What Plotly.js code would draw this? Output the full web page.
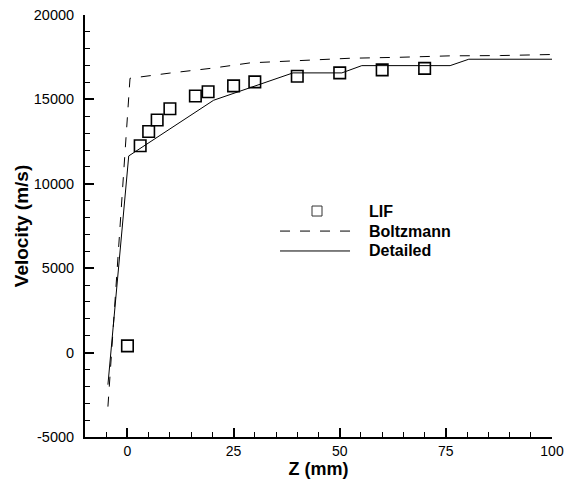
<!DOCTYPE html>
<html>
<head>
<meta charset="utf-8">
<script src="https://cdn.plot.ly/plotly-3.0.1.min.js"></script>
<style>html,body{margin:0;padding:0;background:#fff;}#chart{width:569px;height:485px;}</style>
</head>
<body>
<div id="chart"></div>
<script>
// LIF measurements
var lifZ = [0, 3, 5, 7, 10, 16, 19, 25, 30, 40, 50, 60, 70];
var lifV = [400, 12250, 13100, 13780, 14450, 15200, 15450, 15800, 16040, 16370, 16570, 16750, 16840];
// Boltzmann model
var boltzZ = [-4.6, 0.6, 10, 20, 28.9, 40.6, 52.4, 64.2, 76, 87.8, 100];
var boltzV = [-3200, 16250, 16560, 16850, 17164, 17318, 17437, 17496, 17580, 17597, 17660];
// Detailed model
var detZ = [-4.6, 0.3, 20.3, 39, 50.5, 55.2, 76, 80.4, 100];
var detV = [-1900, 11650, 14950, 16570, 16570, 17000, 17000, 17380, 17380];
// Legend labels
var names = ["LIF", "Boltzmann", "Detailed"];
// Tick labels
var xTickVals = [0, 25, 50, 75, 100];
var yTickVals = [-5000, 0, 5000, 10000, 15000, 20000];
var yTickText = ["-5000", "0", "5000", "10000", "15000", "20000"];

var FONT = "Liberation Sans, Arial, Helvetica, sans-serif";

var traces = [
  {x: boltzZ, y: boltzV, type: "scatter", mode: "lines", name: names[1],
   line: {color: "#000", width: 1, dash: "10px,10px"}},
  {x: detZ, y: detV, type: "scatter", mode: "lines", name: names[2],
   line: {color: "#000", width: 1}},
  {x: lifZ, y: lifV, type: "scatter", mode: "markers", name: names[0],
   marker: {symbol: "square-open", size: 11.5, color: "#000", line: {color: "#111", width: 1.6}}}
];

var legY = [0.5355, 0.488, 0.4408];
var shapes = [
  {type: "rect", xref: "paper", yref: "paper", xsizemode: "pixel", ysizemode: "pixel",
   xanchor: 0.4968, yanchor: legY[0], x0: -5, x1: 5, y0: -5, y1: 5,
   line: {color: "#333", width: 1}, fillcolor: "rgba(0,0,0,0)"},
  {type: "line", xref: "paper", yref: "paper", x0: 0.4176, x1: 0.5675, y0: legY[1], y1: legY[1],
   line: {color: "#000", width: 1, dash: "10px,10px"}},
  {type: "line", xref: "paper", yref: "paper", x0: 0.4176, x1: 0.5675, y0: legY[2], y1: legY[2],
   line: {color: "#000", width: 1}}
];
var annotations = names.map(function (n, i) {
  return {text: "<b>" + n + "</b>", xref: "paper", yref: "paper", x: 0.604, y: legY[i],
          xanchor: "left", yanchor: "middle", showarrow: false,
          font: {family: FONT, size: 16, color: "#000"}};
});

var layout = {
  width: 569, height: 485,
  margin: {l: 85, r: 17, t: 15, b: 48},
  paper_bgcolor: "#fff", plot_bgcolor: "#fff",
  showlegend: false,
  font: {family: FONT, color: "#000", size: 14},
  xaxis: {
    range: [-10, 100], tickvals: xTickVals, showgrid: false, zeroline: false,
    showline: true, linecolor: "#000", linewidth: 2,
    ticks: "inside", ticklen: 9, tickwidth: 2, tickcolor: "#000",
    tickfont: {family: FONT, size: 14},
    minor: {dtick: 5, tick0: 0, ticks: "inside", ticklen: 5, tickwidth: 1, tickcolor: "#000", showgrid: false},
    title: {text: "<b>Z (mm)</b>", font: {family: FONT, size: 18}, standoff: 1}
  },
  yaxis: {
    range: [-5000, 20000], tickvals: yTickVals, ticktext: yTickText, showgrid: false, zeroline: false,
    showline: true, linecolor: "#000", linewidth: 2,
    ticks: "inside", ticklen: 9, tickwidth: 2, tickcolor: "#000",
    tickfont: {family: FONT, size: 14.5}, ticklabelstandoff: 6,
    minor: {dtick: 1000, tick0: 0, ticks: "inside", ticklen: 5, tickwidth: 1, tickcolor: "#000", showgrid: false},
    title: {text: "<b>Velocity (m/s)</b>", font: {family: FONT, size: 19}, standoff: 0}
  },
  shapes: shapes,
  annotations: annotations
};

Plotly.newPlot("chart", traces, layout, {displayModeBar: false, staticPlot: true});
</script>
</body>
</html>
